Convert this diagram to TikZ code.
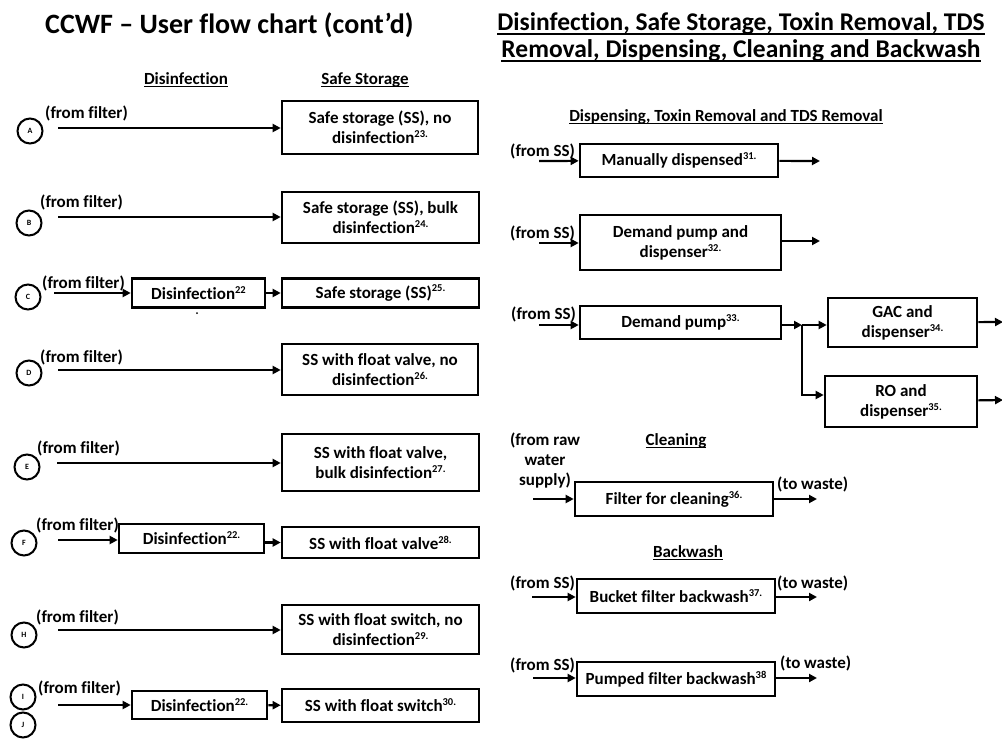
\documentclass[tikz,border=0pt]{standalone}
\usepackage{fontspec}
\setmainfont{Carlito}[Ligatures=NoCommon]
\usepackage{tikz}
\usetikzlibrary{positioning, arrows.meta}

\newcommand{\fn}[1]{\raisebox{0.36em}{\fontsize{10.5}{10}\selectfont #1}}
% underline that runs close under the baseline
\newcommand{\ul}[1]{\setbox0\hbox{#1}\rlap{\rule[-0.19em]{\wd0}{0.07em}}\box0}

\begin{document}
\begin{tikzpicture}[x=1pt,y=-1pt,
    font=\fontsize{17}{20}\selectfont\bfseries,
    box/.style={draw,line width=2.6pt,align=center,inner sep=0pt},
    flow/.style={line width=2.2pt,-{Triangle[length=8pt,width=8pt]}},
    letter/.style={draw,circle,line width=2pt,minimum size=25pt,inner sep=0pt,
      font=\fontsize{8}{9}\selectfont\bfseries},
    lbl/.style={anchor=west,inner sep=0pt},
    head/.style={inner sep=0pt,anchor=base}]
  \useasboundingbox[fill=white] (0,0) rectangle (1002,739);

  % titles
  \node[head,anchor=base west] (title) at (45,33)
    {\fontsize{28}{32}\selectfont CCWF -- User flow chart (cont'd)};
  \node[head] (top1) at (741,30)
    {\fontsize{25.5}{30}\selectfont\ul{Disinfection, Safe Storage, Toxin Removal, TDS}};
  \node[head] (top2) at (741,57)
    {\fontsize{25.5}{30}\selectfont\ul{Removal, Dispensing, Cleaning and Backwash}};

  % left half: disinfection and safe storage
  \node[head] (hdis) at (186,84) {\ul{Disinfection}};
  \node[head] (hss) at (365,84) {\ul{Safe Storage}};

  % A
  \node[letter] (cA) at (30,131) {A};
  \node[lbl] (fA) at (45,113) {(from filter)};
  \coordinate (inA) at (58,128);
  \node[box,minimum width=196pt,minimum height=53pt] (ssA) at (380,127.5)
    {Safe storage (SS), no\\disinfection\fn{23.}};
  \draw[flow] (inA) -- (inA -| ssA.west);

  % B
  \node[letter] (cB) at (29,223) {B};
  \node[lbl] (fB) at (40,202) {(from filter)};
  \coordinate (inB) at (58,217);
  \node[box,minimum width=197pt,minimum height=51pt] (ssB) at (380.5,217.5)
    {Safe storage (SS), bulk\\disinfection\fn{24.}};
  \draw[flow] (inB) -- (inB -| ssB.west);

  % C
  \node[letter] (cC) at (28,297) {C};
  \node[lbl] (fC) at (42,283) {(from filter)};
  \coordinate (inC) at (54,293);
  \node[box,minimum width=133pt,minimum height=29pt] (disC) at (198.5,293) {Disinfection\fn{22}};
  \node[box,minimum width=197pt,minimum height=29pt] (ssC) at (380.5,293) {Safe storage (SS)\fn{25.}};
  \draw[flow] (inC) -- (disC);
  \draw[flow] (disC) -- (ssC);
  \fill (197,313) circle (1pt);

  % D
  \node[letter] (cD) at (29,373) {D};
  \node[lbl] (fD) at (40,357) {(from filter)};
  \coordinate (inD) at (58,370);
  \node[box,minimum width=196pt,minimum height=51pt] (ssD) at (380,369.5)
    {SS with float valve, no\\disinfection\fn{26.}};
  \draw[flow] (inD) -- (inD -| ssD.west);

  % E
  \node[letter] (cE) at (27,467) {E};
  \node[lbl] (fE) at (37,448) {(from filter)};
  \coordinate (inE) at (57,463);
  \node[box,minimum width=197pt,minimum height=57pt] (ssE) at (380.5,462.5)
    {SS with float valve,\\bulk disinfection\fn{27.}};
  \draw[flow] (inE) -- (inE -| ssE.west);

  % F
  \node[letter] (cF) at (24,543) {F};
  \node[lbl] (fF) at (36,525) {(from filter)};
  \coordinate (inF) at (58,540);
  \node[box,minimum width=145pt,minimum height=29pt] (disF) at (191.5,538.5) {Disinfection\fn{22.}};
  \node[box,minimum width=197pt,minimum height=31pt] (ssF) at (380.5,542.5) {SS with float valve\fn{28.}};
  \draw[flow] (inF) -- (inF -| disF.west);
  \draw[flow] (disF.east |- ssF.west) -- (ssF.west);

  % H
  \node[letter] (cH) at (24,635) {H};
  \node[lbl] (fH) at (36,617) {(from filter)};
  \coordinate (inH) at (58,630);
  \node[box,minimum width=197pt,minimum height=49pt] (ssH) at (380.5,629.5)
    {SS with float switch, no\\disinfection\fn{29.}};
  \draw[flow] (inH) -- (inH -| ssH.west);

  % I and J
  \node[letter] (cI) at (23,697) {I};
  \node[letter] (cJ) at (23,725) {J};
  \node[lbl] (fI) at (38,688) {(from filter)};
  \coordinate (inI) at (58,705);
  \node[box,minimum width=135pt,minimum height=28pt] (disI) at (199.5,705) {Disinfection\fn{22.}};
  \node[box,minimum width=197pt,minimum height=33pt] (ssI) at (380.5,705.5) {SS with float switch\fn{30.}};
  \draw[flow] (inI) -- (disI);
  \draw[flow] (disI) -- (ssI);

  % right half: dispensing, toxin and TDS removal
  \node[head] (hdisp) at (726,121) {\ul{Dispensing, Toxin Removal and TDS Removal}};

  \node[lbl] (fM) at (510,151) {(from SS)};
  \coordinate (inM) at (539,161);
  \coordinate (outM) at (820,161);
  \node[box,minimum width=198pt,minimum height=33pt] (man) at (679,160.5) {Manually dispensed\fn{31.}};
  \draw[flow] (inM) -- (man);
  \draw[flow] (man) -- (outM);

  \node[lbl] (fP) at (510,233) {(from SS)};
  \coordinate (inP) at (539,243);
  \coordinate (outP) at (820,241);
  \node[box,minimum width=201pt,minimum height=55pt] (dpd) at (680.5,242.5)
    {Demand pump and\\dispenser\fn{32.}};
  \draw[flow] (inP) -- (inP -| dpd.west);
  \draw[flow] (outP -| dpd.east) -- (outP);

  \node[lbl] (fQ) at (511,314) {(from SS)};
  \coordinate (inQ) at (539,325);
  \coordinate (split) at (802,325);
  \node[box,minimum width=201pt,minimum height=33pt] (pump) at (680.5,322.5) {Demand pump\fn{33.}};
  \node[box,minimum width=149pt,minimum height=49pt] (gac) at (902.5,322.5)
    {GAC and\\dispenser\fn{34.}};
  \node[box,minimum width=152pt,minimum height=51pt] (ro) at (901,401.5)
    {RO and\\dispenser\fn{35.}};
  \coordinate (outG) at (1003,322);
  \coordinate (outR) at (1003,400);
  \draw[flow] (inQ) -- (inQ -| pump.west);
  \draw[flow] (inQ -| pump.east) -- (split);
  \draw[flow] (split) -- (split -| gac.west);
  \draw[flow] (split) |- ([yshift=6.5pt]ro.west);
  \draw[flow] (gac) -- (outG);
  \draw[flow] (ro) -- (outR);

  % cleaning
  \node[head] (hclean) at (676,445) {\ul{Cleaning}};
  \node[inner sep=0pt,align=center] (fW) at (545,461) {(from raw\\water\\supply)};
  \coordinate (inW) at (533,499);
  \coordinate (outW) at (817,499);
  \node[box,minimum width=198pt,minimum height=34pt] (clean) at (674,499) {Filter for cleaning\fn{36.}};
  \node[lbl] (tW) at (777,484) {(to waste)};
  \draw[flow] (inW) -- (clean);
  \draw[flow] (clean) -- (outW);

  % backwash
  \node[head] (hback) at (688,557) {\ul{Backwash}};

  \node[lbl] (fK) at (510,583) {(from SS)};
  \coordinate (inK) at (532,597);
  \coordinate (outK) at (817,597);
  \node[box,minimum width=198pt,minimum height=34pt] (bucket) at (676,596) {Bucket filter backwash\fn{37.}};
  \node[lbl] (tK) at (777,583) {(to waste)};
  \draw[flow] (inK) -- (inK -| bucket.west);
  \draw[flow] (outK -| bucket.east) -- (outK);

  \node[lbl] (fL) at (510,665) {(from SS)};
  \coordinate (inL) at (533,678);
  \coordinate (outL) at (817,678);
  \node[box,minimum width=198pt,minimum height=34pt] (pumped) at (676,679) {Pumped filter backwash\fn{38}};
  \node[lbl] (tL) at (780,663) {(to waste)};
  \draw[flow] (inL) -- (inL -| pumped.west);
  \draw[flow] (outL -| pumped.east) -- (outL);
\end{tikzpicture}
\end{document}
